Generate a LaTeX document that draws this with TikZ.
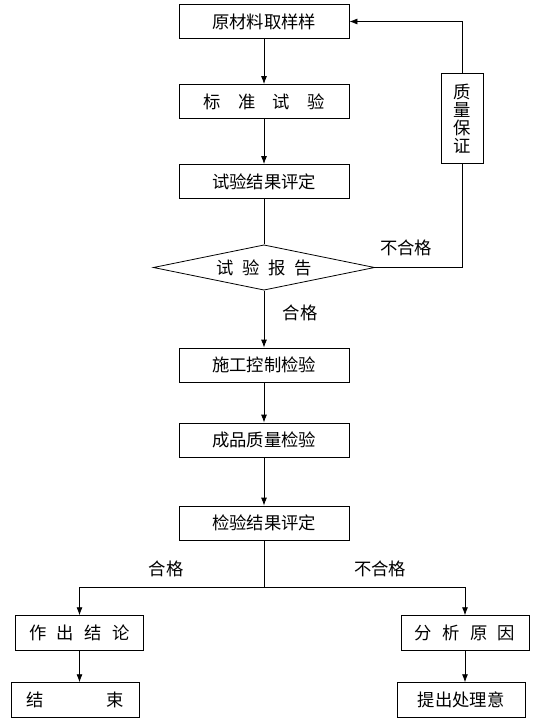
\documentclass[tikz,border=0pt]{standalone}
\usepackage{fontspec}
\newfontfamily\cjk{Noto Sans CJK SC}
\usepackage{tikz}
\usetikzlibrary{shapes.geometric, arrows.meta}

\begin{document}
\begin{tikzpicture}[x=0.75pt, y=-0.75pt,
    every node/.style={font=\cjk\fontsize{13}{13.5}\selectfont},
    stepbox/.style={draw, line width=0.6pt, minimum width=127.5pt, minimum height=25.5pt, inner sep=0pt},
    endbox/.style={draw, line width=0.6pt, minimum width=96pt, minimum height=26pt, inner sep=0pt},
    flow/.style={line width=0.6pt, -{Latex[length=6pt, width=4.5pt]}},
    link/.style={line width=0.6pt}]
    \useasboundingbox (0,0) rectangle (532,728);

    % Main column
    \node[stepbox] (sampling) at (264,21.5) {原材料取样样};
    \node[stepbox] (standard) at (264,101.5) {标\hspace{1em}准\hspace{1em}试\hspace{1em}验};
    \node[stepbox] (testeval) at (264,181.5) {试验结果评定};
    \node[draw, diamond, aspect=4.9, line width=0.6pt, minimum width=166pt, minimum height=34pt, inner sep=0pt] (report) at (264,267.5) {试\hspace{0.5em}验\hspace{0.5em}报\hspace{0.5em}告};
    \node[stepbox] (sitecheck) at (264,365) {施工控制检验};
    \node[stepbox] (productcheck) at (264,440) {成品质量检验};
    \node[stepbox] (checkeval) at (264,523) {检验结果评定};

    % Feedback box
    \node[draw, line width=0.6pt, minimum width=31.5pt, minimum height=68pt, inner sep=0pt, align=center] (quality) at (462,118.5) {质\\量\\保\\证};

    % Bottom branches
    \node[endbox] (conclude) at (79.5,633) {作\hspace{0.6em}出\hspace{0.6em}结\hspace{0.6em}论};
    \node[endbox] (finish) at (75.5,700) {结\hspace{3.6em}束};
    \node[endbox] (analyse) at (465,633) {分\hspace{0.6em}析\hspace{0.6em}原\hspace{0.6em}因};
    \node[endbox] (propose) at (461,700) {提出处理意};
    \coordinate (split) at (264,587);

    % Connectors
    \draw[flow] (sampling) -- (standard);
    \draw[flow] (standard) -- (testeval);
    \draw[link] (testeval) -- (report);
    \draw[flow] (report) -- (sitecheck);
    \draw[flow] (sitecheck) -- (productcheck);
    \draw[flow] (productcheck) -- (checkeval);
    \draw[link] (report.east) -| (quality.south);
    \draw[flow] (quality.north) |- (sampling.east);
    \draw[link] (checkeval) -- (split);
    \draw[flow] (split) -| (conclude.north);
    \draw[flow] (split) -| (analyse.north);
    \draw[flow] (conclude.south) -- (conclude.south |- finish.north);
    \draw[flow] (analyse.south) -- (analyse.south |- propose.north);

    % Labels
    \node (passA) at (300,313) {合格};
    \node (failA) at (406,248) {不合格};
    \node (passB) at (166,569) {合格};
    \node (failB) at (380,569) {不合格};
\end{tikzpicture}
\end{document}
